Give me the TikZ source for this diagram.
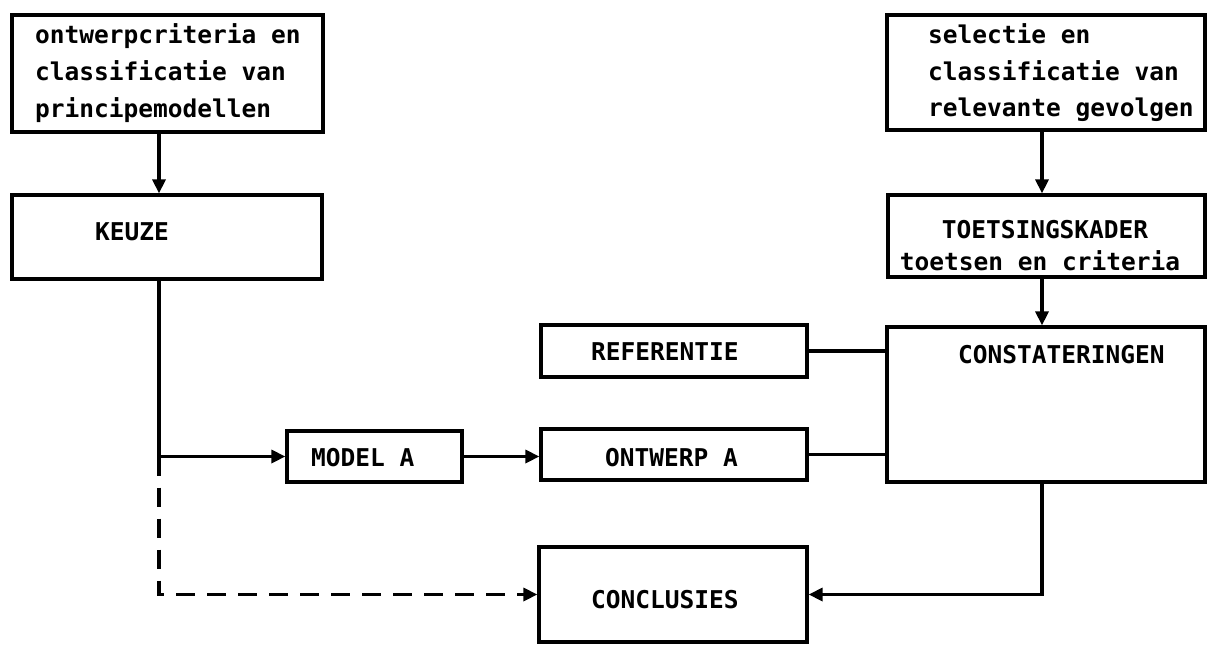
\documentclass[tikz,border=0pt]{standalone}
\usepackage{fontspec}
\newfontfamily\dmono{DejaVu Sans Mono}
\usetikzlibrary{arrows.meta}
\begin{document}
\begin{tikzpicture}[x=1pt,y=-1pt,
  box/.style={draw, line width=3.2pt, rectangle, inner sep=0pt},
  txt/.style={anchor=base west, inner sep=0pt, font=\dmono\bfseries\fontsize{24.5}{28}\selectfont},
  ctxt/.style={txt, anchor=base},
  conn/.style={line width=3.2pt},
  arr/.style={conn, -{Triangle[length=14pt,width=13pt]}},
  dsh/.style={arr, dash pattern=on 19pt off 12pt}
]
\fill[white] (0,0) rectangle (1208,645);
\useasboundingbox (0,0) rectangle (1208,645);

% column coordinates
\coordinate (colL) at (159,0);
\coordinate (colR) at (1042,0);

% boxes
\node[box, minimum width=311pt, minimum height=117pt] (crit) at (167.5,73.5) {};
\node[box, minimum width=318pt, minimum height=115pt] (sel) at (1046,72.5) {};
\node[box, minimum width=310pt, minimum height=84pt] (keuze) at (167,237) {};
\node[box, minimum width=317pt, minimum height=82pt] (toets) at (1046.5,236) {};
\node[box, minimum width=266pt, minimum height=52pt] (ref) at (674,351) {};
\node[box, minimum width=318pt, minimum height=155pt] (const) at (1046,404.5) {};
\node[box, minimum width=175pt, minimum height=51pt] (model) at (374.5,456.5) {};
\node[box, minimum width=266pt, minimum height=51pt] (ontwerp) at (674,454.5) {};
\node[box, minimum width=268pt, minimum height=95pt] (concl) at (673,594.5) {};

% texts
\node[txt] (crit1) at (35,43) {ontwerpcriteria en};
\node[txt] (crit2) at (35,80) {classificatie van};
\node[txt] (crit3) at (35,117) {principemodellen};
\node[txt] (sel1) at (928,43) {selectie en};
\node[txt] (sel2) at (928,80) {classificatie van};
\node[txt] (sel3) at (928,116) {relevante gevolgen};
\node[txt] (keuzet) at (95,240) {KEUZE};
\node[ctxt] (toets1) at (1045,238) {TOETSINGSKADER};
\node[ctxt] (toets2) at (1040,270) {toetsen en criteria};
\node[txt] (reft) at (591,360) {REFERENTIE};
\node[txt] (constt) at (958,363) {CONSTATERINGEN};
\node[txt] (modelt) at (311,466) {MODEL A};
\node[txt] (ontwerpt) at (605,466) {ONTWERP A};
\node[txt] (conclt) at (591,608) {CONCLUSIES};

% connectors
\draw[arr] (crit.south -| colL) -- (keuze.north -| colL);
\draw[arr] (sel.south -| colR) -- (toets.north -| colR);
\draw[arr] (toets.south -| colR) -- (const.north -| colR);
\coordinate (J) at (colL |- model.west);
\draw[arr] (keuze.south -| colL) |- (model.west);
\draw[dsh] (J) |- (concl.west);
\draw[arr] (model.east) -- (model.east -| ontwerp.west);
\draw[conn] (ref.east) -- (ref.east -| const.west);
\draw[conn] (ontwerp.east) -- (ontwerp.east -| const.west);
\draw[arr] (const.south -| colR) |- (concl.east);
\end{tikzpicture}
\end{document}
